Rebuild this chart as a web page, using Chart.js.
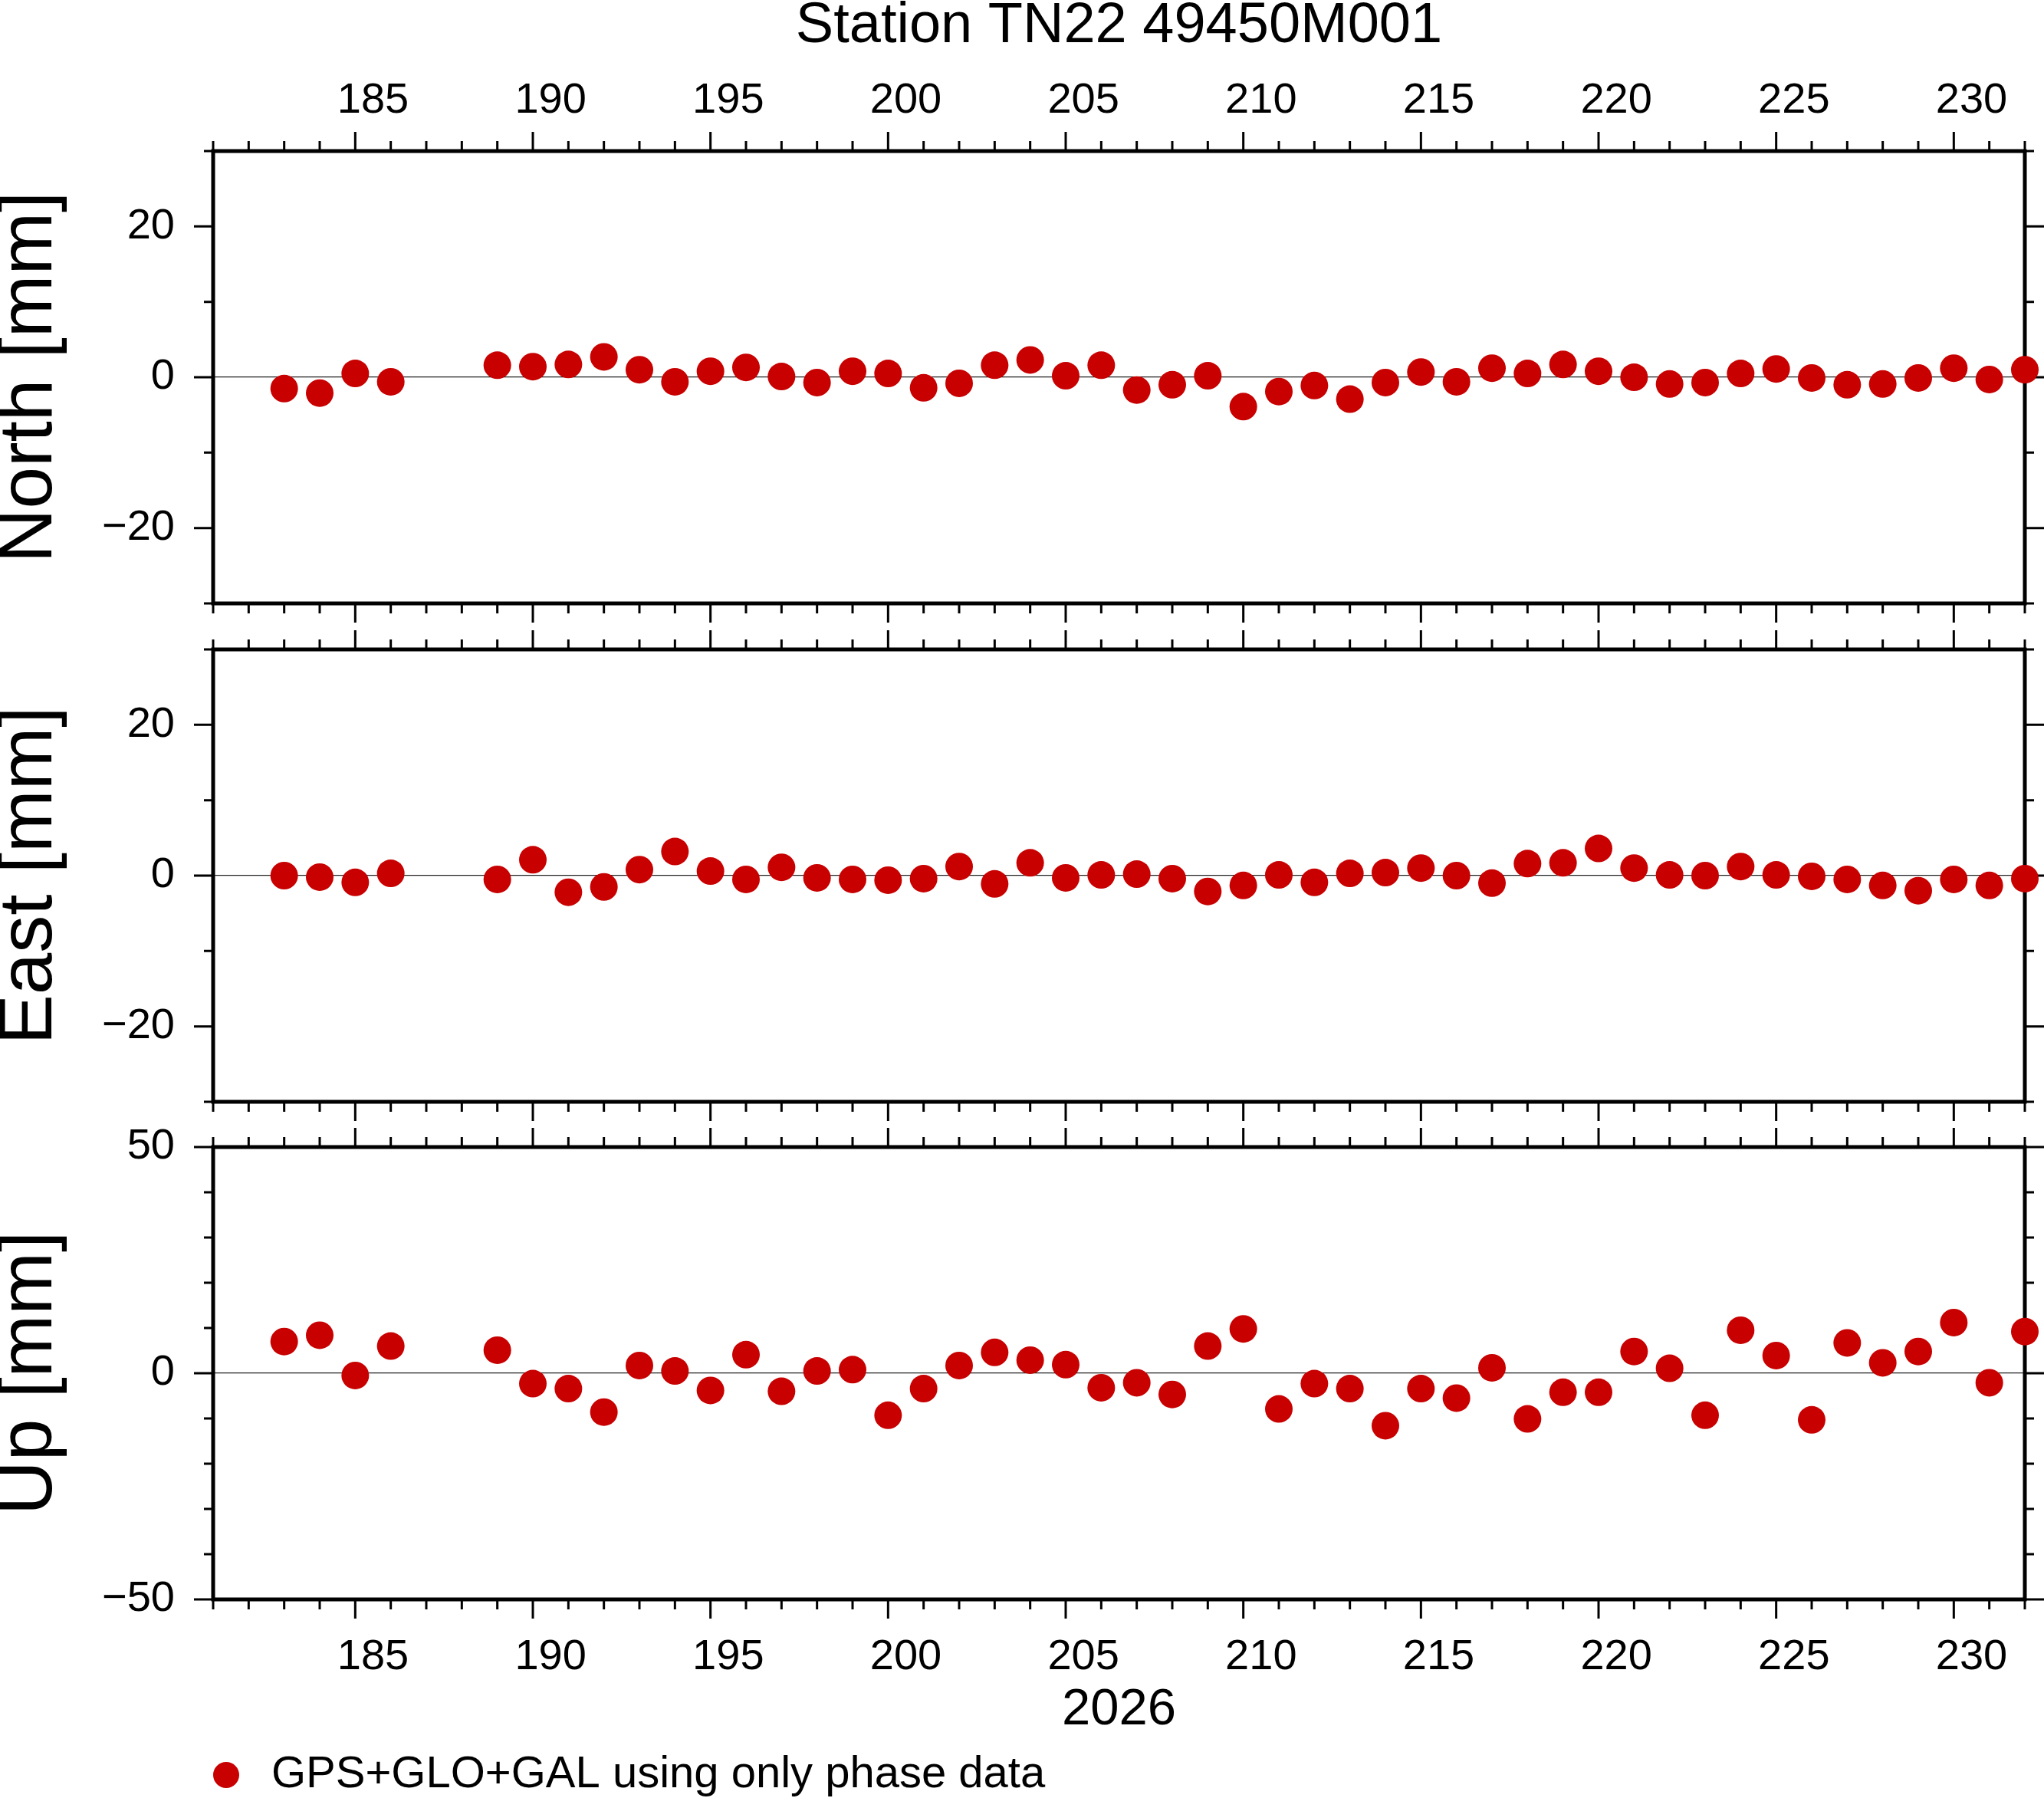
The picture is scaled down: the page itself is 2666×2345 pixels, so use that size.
<!DOCTYPE html>
<html>
<head>
<meta charset="utf-8">
<script src="https://cdn.jsdelivr.net/npm/chart.js@4.4.1/dist/chart.umd.min.js"></script>
<style>
  html, body { margin: 0; padding: 0; background: #fff; }
  body { width: 2666px; height: 2345px; position: relative; overflow: hidden; }
  canvas { position: absolute; left: 0; }
</style>
</head>
<body>
<canvas id="north" width="2666" height="820" style="top:0px"></canvas>
<canvas id="east" width="2666" height="650" style="top:820px"></canvas>
<canvas id="up" width="2666" height="875" style="top:1470px"></canvas>
<script>
// day of year 2026 (187, 188 missing)
const days = [183, 184, 185, 186,
  189, 190, 191, 192, 193, 194, 195, 196, 197, 198, 199, 200, 201, 202, 203, 204,
  205, 206, 207, 208, 209, 210, 211, 212, 213, 214, 215, 216, 217, 218, 219, 220,
  221, 222, 223, 224, 225, 226, 227, 228, 229, 230, 231, 232];

// residuals in mm
const north = [-1.5, -2.1, 0.5, -0.6,
  1.6, 1.4, 1.7, 2.7, 1.0, -0.6, 0.8, 1.3, 0.1, -0.7, 0.8, 0.5, -1.4, -0.8, 1.6, 2.3,
  0.2, 1.6, -1.7, -1.0, 0.2, -3.9, -1.9, -1.1, -2.9, -0.7, 0.7, -0.6, 1.2, 0.5, 1.7, 0.8,
  0.0, -0.9, -0.7, 0.5, 1.1, -0.1, -1.0, -0.9, -0.1, 1.2, -0.3, 1.0];

const east = [0.0, -0.2, -0.9, 0.3,
  -0.5, 2.1, -2.2, -1.5, 0.8, 3.2, 0.6, -0.5, 1.1, -0.3, -0.5, -0.6, -0.4, 1.2, -1.1, 1.7,
  -0.3, 0.1, 0.2, -0.4, -2.1, -1.3, 0.1, -0.9, 0.3, 0.4, 1.0, 0.0, -1.0, 1.6, 1.7, 3.6,
  1.0, 0.1, 0.0, 1.2, 0.1, -0.1, -0.5, -1.3, -2.0, -0.5, -1.3, -0.4];

const up = [7.0, 8.4, -0.5, 6.0,
  5.1, -2.3, -3.4, -8.6, 1.7, 0.5, -3.8, 4.1, -4.0, 0.5, 0.8, -9.3, -3.4, 1.7, 4.6, 2.9,
  1.9, -3.2, -2.1, -4.7, 6.0, 9.8, -7.9, -2.3, -3.4, -11.6, -3.4, -5.5, 1.2, -10.1, -4.2, -4.2,
  4.8, 1.1, -9.3, 9.5, 3.9, -10.3, 6.7, 2.3, 4.8, 11.2, -2.1, 9.2];

// day labels (GMT style: written in the middle of the day interval)
const dayTicks = [185, 190, 195, 200, 205, 210, 215, 220, 225, 230];
const neTicks = [-20, 0, 20];
const upTicks = [-50, 0, 50];

const dayMin = 181, dayMax = 232;
const yearLabel = '2026';
const stationTitle = 'Station TN22 49450M001';
const seriesLabel = 'GPS+GLO+GAL using only phase data';
const dotColor = '#c80000';

Chart.defaults.font.family = "'Liberation Sans', Arial, Helvetica, sans-serif";
Chart.defaults.color = '#000';

const minus = v => (v < 0 ? '\u2212' + Math.abs(v) : String(v));

// frame + outward ticks on all four sides, drawn under the dots
const frameTicks = {
  id: 'frameTicks',
  beforeDatasetsDraw(chart, args, opts) {
    const { ctx, chartArea: a, scales } = chart;
    const x = scales.x, y = scales.y;
    ctx.save();
    ctx.strokeStyle = '#000';
    ctx.lineWidth = 3;
    ctx.beginPath();
    for (let d = dayMin; d <= dayMax; d++) {
      const px = x.getPixelForValue(d);
      const len = d % 5 === 0 ? 25 : 13;
      ctx.moveTo(px, a.top); ctx.lineTo(px, a.top - len);
      ctx.moveTo(px, a.bottom); ctx.lineTo(px, a.bottom + len);
    }
    for (let v = y.min; v <= y.max; v += opts.minor) {
      const py = y.getPixelForValue(v);
      const len = v % opts.major === 0 ? 25 : 12;
      ctx.moveTo(a.left, py); ctx.lineTo(a.left - len, py);
      ctx.moveTo(a.right, py); ctx.lineTo(a.right + len, py);
    }
    ctx.stroke();
    ctx.lineWidth = 5;
    ctx.strokeRect(a.left, a.top, a.right - a.left, a.bottom - a.top);
    ctx.restore();
  }
};

// legend line under the bottom panel
const legendLine = {
  id: 'legendLine',
  afterDraw(chart, args, opts) {
    if (!opts.show) return;
    const { ctx, chartArea: a } = chart;
    const ds = chart.data.datasets[0];
    const cy = a.bottom + 229;
    ctx.save();
    ctx.fillStyle = ds.backgroundColor;
    ctx.beginPath();
    ctx.arc(a.left + 17, cy, 17, 0, Math.PI * 2);
    ctx.fill();
    ctx.fillStyle = '#000';
    ctx.font = "58px 'Liberation Sans', Arial, sans-serif";
    ctx.textBaseline = 'middle';
    ctx.fillText(ds.label, a.left + 76, cy);
    ctx.restore();
  }
};

function makePanel(id, values, o) {
  const xAxis = {
    type: 'linear',
    position: o.xPos || 'bottom',
    display: o.xPos !== undefined,
    min: dayMin,
    max: dayMax,
    grid: { display: false, drawTicks: false },
    border: { display: false },
    ticks: {
      maxRotation: 0, autoSkip: false, padding: o.xPad || 0, font: { size: 56 },
      callback: v => String(Math.floor(v))
    },
    afterBuildTicks: s => { s.ticks = dayTicks.map(d => ({ value: d + 0.5 })); },
    afterFit: s => { s.height = o.xHeight || 0; s.paddingLeft = 0; s.paddingRight = 0; }
  };
  if (o.xTitle) {
    xAxis.title = { display: true, text: o.xTitle, font: { size: 67, lineHeight: 1.2 }, padding: 0 };
  }

  new Chart(document.getElementById(id), {
    type: 'scatter',
    data: {
      datasets: [{
        label: seriesLabel,
        data: days.map((d, i) => ({ x: d, y: values[i] })),
        backgroundColor: dotColor,
        borderWidth: 0,
        pointRadius: 18,
        pointHoverRadius: 18,
        clip: false
      }]
    },
    options: {
      responsive: false,
      animation: false,
      events: [],
      layout: { padding: { left: 0, right: 25, top: o.padTop, bottom: o.padBottom } },
      plugins: {
        legend: { display: false },
        tooltip: { enabled: false },
        title: o.title ? {
          display: true, text: o.title, fullSize: false, padding: 0,
          font: { size: 74, weight: 'normal', lineHeight: 0.93 }, color: '#000'
        } : { display: false },
        frameTicks: { major: o.major, minor: o.minor },
        legendLine: { show: !!o.legend }
      },
      scales: {
        x: xAxis,
        y: {
          type: 'linear',
          position: 'left',
          min: o.yMin,
          max: o.yMax,
          border: { display: false },
          grid: {
            drawTicks: false,
            lineWidth: 1.2,
            color: c => (c.tick && c.tick.value === 0 ? '#222' : 'rgba(0,0,0,0)')
          },
          ticks: { padding: 50, font: { size: 56 }, callback: v => minus(v) },
          afterBuildTicks: s => { s.ticks = o.yTicks.map(v => ({ value: v })); },
          title: { display: true, text: o.yTitle, padding: 0, font: { size: 98, lineHeight: 0.82 } },
          afterFit: s => { s.width = 278; s.paddingTop = 0; s.paddingBottom = 0; }
        }
      }
    },
    plugins: [frameTicks, legendLine]
  });
}

makePanel('north', north, {
  title: stationTitle, xPos: 'top', xPad: 32, xHeight: 128.2,
  padTop: 0, padBottom: 33, yMin: -30, yMax: 30, yTicks: neTicks, major: 20, minor: 10,
  yTitle: 'North [mm]'
});
makePanel('east', east, {
  padTop: 27, padBottom: 33, yMin: -30, yMax: 30, yTicks: neTicks, major: 20, minor: 10,
  yTitle: 'East [mm]'
});
makePanel('up', up, {
  xPos: 'bottom', xPad: 42, xHeight: 185, xTitle: yearLabel, legend: true,
  padTop: 26, padBottom: 74, yMin: -50, yMax: 50, yTicks: upTicks, major: 50, minor: 10,
  yTitle: 'Up [mm]'
});
</script>
</body>
</html>
